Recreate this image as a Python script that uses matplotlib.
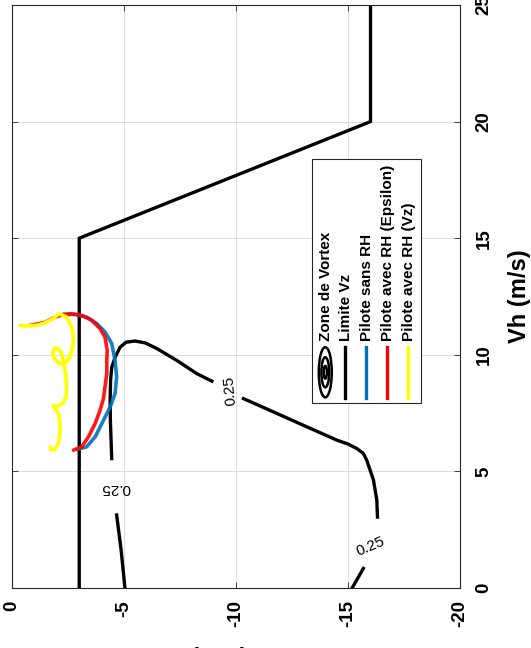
import numpy as np
import matplotlib.pyplot as plt
from matplotlib.patches import Rectangle, Ellipse

plt.rcParams["font.family"] = ["Liberation Sans", "DejaVu Sans"]
plt.rcParams["axes.unicode_minus"] = False

# Limite Vz
limite_vh = [0, 15, 20, 25]
limite_vz = [-3, -3, -16, -16]

# Zone de Vortex, iso 0.25 (nan = coupure pour les labels)
nan = np.nan
zone_vh = [0.00, 1.63, 3.13, nan,
           5.55, 7.19, 8.05, 8.91, 9.46, 9.89, 10.32, 10.54, 10.59, 10.51,
           10.27, 9.76, 9.19, 8.87, nan,
           8.12, 7.55, 6.91, 6.34, 6.17, 5.98, 5.77, 5.48, 4.63, 3.77, 3.04, nan,
           0.84, 0.00]
zone_vz = [-5.04, -4.87, -4.67, nan,
           -4.45, -4.39, -4.38, -4.40, -4.45, -4.60, -4.82, -5.09, -5.49, -5.94,
           -6.46, -7.35, -8.25, -8.92, nan,
           -10.33, -11.67, -13.16, -14.50, -15.00, -15.39, -15.68, -15.83, -16.13, -16.28, -16.31, nan,
           -15.68, -15.18]

label_vh = [8.48, 1.76, 4.28]
label_vz = [-9.73, -16.01, -4.60]
label_rot = [95, 23, 180]

# Pilote sans RH
sans_vh = [5.94, 6.05, 6.48, 7.19, 7.76, 8.34, 9.05, 9.76, 10.48, 10.98, 11.34, 11.62, 11.73, 11.73]
sans_vz = [-2.89, -3.33, -3.71, -4.08, -4.38, -4.60, -4.67, -4.60, -4.45, -4.15, -3.78, -3.33, -2.81, -2.29]

# Pilote avec RH (Epsilon)
eps_vh = [5.91, 6.05, 6.48, 7.05, 7.62, 8.12, 8.62, 9.19, 9.76, 10.19, 10.76, 11.12, 11.48,
          11.69, 11.76, 11.73, 11.61, 11.39, 11.26]
eps_vz = [-2.74, -3.11, -3.41, -3.71, -3.93, -4.08, -4.15, -4.23, -4.23, -4.25, -4.15, -3.93, -3.56,
          -3.11, -2.67, -2.29, -1.92, -1.47, -0.80]

# Pilote avec RH (Vz)
vz_vh = [11.26, 11.24, 11.26, 11.34, 11.55, 11.76, 11.62, 11.19, 10.76, 10.33, 9.91, 9.69, 9.59,
         9.65, 9.84, 10.08, 10.27, 10.27, 10.05, 9.62, 9.12, 8.62, 8.19, 7.91, 7.79, 7.82, 7.70,
         7.48, 7.05, 6.63, 6.20, 5.94, 5.94, 6.05]
vz_vz = [-0.36, -0.58, -1.03, -1.40, -1.84, -2.11, -2.44, -2.67, -2.74, -2.71, -2.59, -2.44, -2.26,
         -2.07, -1.89, -1.82, -1.89, -2.07, -2.22, -2.32, -2.40, -2.44, -2.41, -2.26, -2.00, -1.84, -1.92,
         -2.07, -2.14, -2.14, -2.07, -1.92, -1.73, -1.70]

legend_labels = ["Zone de Vortex", "Limite Vz", "Pilote sans RH",
                 "Pilote avec RH (Epsilon)", "Pilote avec RH (Vz)"]
colors = ["black", "black", "#0072BD", "#FF0000", "#FFFF00"]

fig = plt.figure(figsize=(5.31, 6.48), dpi=100)
ax = fig.add_axes([0.0226, 0.0926, 0.844, 0.8997])

ax.plot(zone_vz, zone_vh, color="black", lw=2.4)
ax.plot(limite_vz, limite_vh, color="black", lw=2.4)
ax.plot(sans_vz, sans_vh, color=colors[2], lw=2.6, solid_capstyle="round", alpha=0.9)
ax.plot(eps_vz, eps_vh, color=colors[3], lw=2.6, solid_capstyle="round", alpha=0.9)
ax.plot(vz_vz, vz_vh, color=colors[4], lw=2.6, solid_capstyle="round")

for x, y, r in zip(label_vz, label_vh, label_rot):
    ax.text(x, y, "0.25", rotation=r, rotation_mode="anchor", ha="center", va="center",
            fontsize=11)

ax.set_xlim(0, -20)
ax.set_ylim(0, 25)
ax.set_xticks([0, -5, -10, -15, -20])
ax.set_yticks([0, 5, 10, 15, 20, 25])
ax.yaxis.tick_right()
ax.tick_params(direction="in", top=True, bottom=True, left=True, right=True,
               length=4, width=0.6, color="#262626", labelsize=13.5)
ax.tick_params(axis="x", pad=9)
ax.tick_params(axis="y", pad=11)
for lab in ax.get_xticklabels():
    lab.set_rotation(90)
    lab.set_fontweight("bold")
for lab in ax.get_yticklabels():
    lab.set_rotation(90)
    lab.set_fontweight("bold")
    lab.set_va("center")

ax.grid(True, color="#dcdcdc", lw=0.7)
ax.set_axisbelow(True)
for s in ax.spines.values():
    s.set_color("#262626")
    s.set_linewidth(0.8)

# label Vz presque entierement hors de la figure, comme sur l'original
ax.set_xlabel("Vz (m/s)", fontsize=17, fontweight="bold", rotation=180)
ax.xaxis.set_label_coords(0.5, -0.097)
ax.set_ylabel("Vh (m/s)", fontsize=17, fontweight="bold")
ax.yaxis.set_label_position("right")
ax.yaxis.set_label_coords(1.107, 0.5)

# legende (tournee)
ax.add_patch(Rectangle((0.670, 0.317), 0.243, 0.419, transform=ax.transAxes,
                       facecolor="white", edgecolor="#262626", lw=0.8, zorder=5))
cols = [0.699, 0.744, 0.790, 0.837, 0.884]
for i, (lab, c) in enumerate(zip(legend_labels, colors)):
    x = cols[i]
    if i == 0:
        for k in [1.0, 0.6, 0.25]:
            ax.add_patch(Ellipse((x, 0.370), 0.029 * k, 0.086 * k, transform=ax.transAxes,
                                 facecolor="none", edgecolor="black", lw=1.8, zorder=6))
    else:
        ax.plot([x, x], [0.326, 0.413], color=c, lw=2.4, transform=ax.transAxes, zorder=6)
    ax.text(x + 0.002, 0.424, lab, rotation=90, rotation_mode="anchor", ha="left", va="center",
            fontsize=11, fontweight="bold", transform=ax.transAxes, zorder=6)

fig.savefig("out.png", dpi=100)
